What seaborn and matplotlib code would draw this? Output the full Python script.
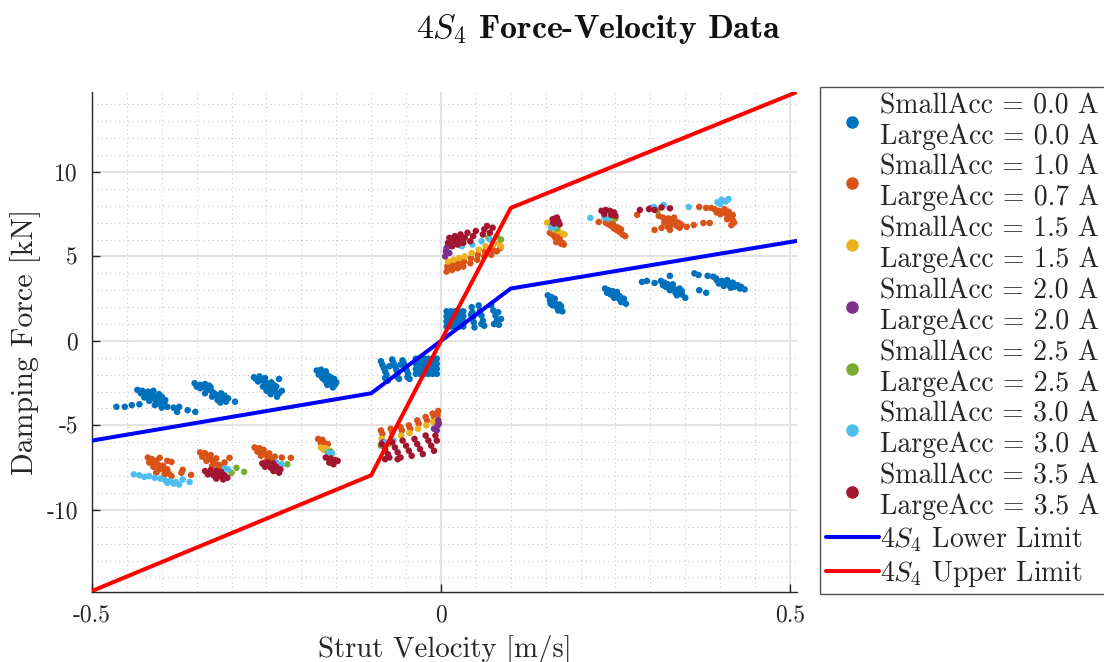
import matplotlib
matplotlib.use("Agg")
import matplotlib.pyplot as plt
import matplotlib.ticker as mticker
from matplotlib.lines import Line2D
import seaborn as sns
import pandas as pd

# ---------------- data ----------------
labels = [
    "SmallAcc = 0.0 A\nLargeAcc = 0.0 A",
    "SmallAcc = 1.0 A\nLargeAcc = 0.7 A",
    "SmallAcc = 1.5 A\nLargeAcc = 1.5 A",
    "SmallAcc = 2.0 A\nLargeAcc = 2.0 A",
    "SmallAcc = 2.5 A\nLargeAcc = 2.5 A",
    "SmallAcc = 3.0 A\nLargeAcc = 3.0 A",
    "SmallAcc = 3.5 A\nLargeAcc = 3.5 A",
]
colors = ["#0072BD", "#D95319", "#EDB120", "#7E2F8E", "#77AC30", "#4DBEEE", "#A2142F"]

acc_00 = [
    (-0.435, -2.90), (-0.428, -2.95), (-0.420, -3.00), (-0.430, -3.10), (-0.422, -3.20), (-0.414, -3.15),
    (-0.410, -3.30), (-0.405, -3.45), (-0.415, -3.40), (-0.400, -3.60), (-0.396, -3.75), (-0.405, -3.70),
    (-0.392, -3.90), (-0.400, -3.95), (-0.418, -3.55), (-0.425, -3.35), (-0.412, -2.95), (-0.404, -3.15),
    (-0.428, -3.05), (-0.418, -3.05), (-0.408, -3.55), (-0.398, -3.85), (-0.410, -3.80), (-0.420, -3.30),
    (-0.400, -3.30), (-0.395, -3.50),
    (-0.465, -3.90), (-0.453, -3.90), (-0.443, -3.80), (-0.432, -3.75), (-0.383, -3.95), (-0.375, -3.90),
    (-0.363, -4.10), (-0.378, -4.20), (-0.352, -4.20),
    (-0.353, -2.50), (-0.345, -2.60), (-0.338, -2.55), (-0.345, -2.80), (-0.335, -2.90), (-0.328, -3.00),
    (-0.338, -3.10), (-0.322, -3.20), (-0.318, -3.35), (-0.328, -3.30), (-0.312, -3.50), (-0.308, -3.60),
    (-0.316, -3.65), (-0.305, -3.40), (-0.340, -2.70), (-0.330, -2.75), (-0.295, -3.60),
    (-0.350, -2.70), (-0.332, -2.65), (-0.325, -3.10), (-0.315, -3.10), (-0.310, -3.25), (-0.320, -3.50),
    (-0.268, -2.15), (-0.260, -2.10), (-0.252, -2.20), (-0.262, -2.40), (-0.250, -2.50), (-0.243, -2.45),
    (-0.255, -2.70), (-0.245, -2.80), (-0.236, -2.70), (-0.240, -3.00), (-0.232, -3.10), (-0.244, -3.15),
    (-0.235, -3.30), (-0.232, -2.25), (-0.258, -2.30), (-0.248, -2.60),
    (-0.265, -2.25), (-0.255, -2.35), (-0.240, -2.60), (-0.238, -2.85), (-0.250, -2.95), (-0.228, -2.95),
    (-0.178, -1.75), (-0.172, -1.70), (-0.168, -1.90), (-0.175, -2.00), (-0.162, -2.05), (-0.170, -2.20),
    (-0.160, -2.30), (-0.153, -2.25), (-0.158, -2.50), (-0.150, -2.45), (-0.163, -2.60), (-0.155, -2.75),
    (-0.165, -1.80), (-0.158, -2.15), (-0.152, -2.60), (-0.166, -2.35),
    (-0.086, -1.20), (-0.084, -1.40), (-0.082, -1.60), (-0.080, -1.80), (-0.078, -2.00), (-0.080, -2.20),
    (-0.076, -2.35), (-0.074, -1.50),
    (-0.070, -1.10), (-0.068, -1.30), (-0.066, -1.50), (-0.064, -1.70), (-0.062, -1.90), (-0.063, -2.10),
    (-0.060, -2.25), (-0.058, -1.40),
    (-0.055, -1.15), (-0.053, -1.35), (-0.051, -1.55), (-0.049, -1.75), (-0.047, -1.95), (-0.048, -2.15),
    (-0.045, -2.25),
    (-0.036, -1.05), (-0.030, -1.05), (-0.024, -1.05), (-0.018, -1.05), (-0.012, -1.05), (-0.006, -1.05),
    (-0.036, -1.35), (-0.030, -1.35), (-0.024, -1.35), (-0.018, -1.35), (-0.012, -1.35), (-0.006, -1.35),
    (-0.036, -1.65), (-0.030, -1.65), (-0.024, -1.65), (-0.018, -1.65), (-0.012, -1.65), (-0.006, -1.65),
    (-0.036, -1.95), (-0.030, -1.95), (-0.024, -1.95), (-0.018, -1.95), (-0.012, -1.95), (-0.006, -1.95),
    (0.008, 0.85), (0.014, 0.85), (0.020, 0.85), (0.026, 0.85), (0.032, 0.85),
    (0.008, 1.15), (0.014, 1.15), (0.020, 1.15), (0.026, 1.15), (0.032, 1.15),
    (0.008, 1.45), (0.014, 1.45), (0.020, 1.45), (0.026, 1.45), (0.032, 1.45),
    (0.008, 1.75), (0.014, 1.75), (0.020, 1.75), (0.026, 1.75), (0.032, 1.75),
    (0.044, 2.00), (0.045, 1.70), (0.046, 1.40), (0.047, 1.10), (0.048, 0.80), (0.043, 1.55),
    (0.054, 2.10), (0.056, 1.80), (0.058, 1.50), (0.060, 1.20), (0.062, 0.90), (0.058, 1.00),
    (0.072, 2.10), (0.075, 1.80), (0.078, 1.50), (0.080, 1.20), (0.083, 0.95), (0.086, 1.30),
    (0.082, 1.70), (0.076, 1.00),
    (0.153, 2.70), (0.158, 2.60), (0.156, 2.40), (0.162, 2.30), (0.160, 2.10), (0.166, 2.00),
    (0.170, 1.90), (0.174, 1.75), (0.168, 1.80), (0.172, 2.05), (0.163, 2.50),
    (0.164, 2.20), (0.157, 2.20), (0.170, 2.15),
    (0.235, 3.10), (0.240, 3.00), (0.245, 2.85), (0.250, 2.70), (0.248, 2.55), (0.255, 2.50),
    (0.260, 2.35), (0.265, 2.20), (0.258, 2.30), (0.243, 2.75), (0.252, 2.90),
    (0.238, 2.85), (0.246, 2.95), (0.262, 2.50), (0.256, 2.65),
    (0.288, 3.49), (0.295, 3.55), (0.306, 3.43), (0.328, 3.85),
    (0.315, 3.55), (0.320, 3.45), (0.325, 3.35), (0.330, 3.20), (0.335, 3.05), (0.340, 2.90),
    (0.345, 2.75), (0.350, 2.55), (0.338, 2.70), (0.328, 3.00), (0.342, 3.10), (0.318, 3.30),
    (0.322, 3.20), (0.332, 3.35), (0.336, 2.85), (0.345, 2.95),
    (0.382, 3.85), (0.390, 3.80), (0.395, 3.60), (0.402, 3.55), (0.408, 3.40), (0.413, 3.30),
    (0.420, 3.20), (0.428, 3.10), (0.435, 3.05), (0.410, 3.60), (0.418, 3.45), (0.398, 3.40),
    (0.394, 3.70), (0.405, 3.50), (0.415, 3.15), (0.425, 3.30), (0.430, 3.20), (0.405, 3.25),
    (0.363, 4.00), (0.369, 3.90), (0.370, 3.00), (0.380, 2.85),
]

acc_10 = [
    (-0.420, -6.90), (-0.414, -7.00), (-0.418, -7.20), (-0.410, -7.25), (-0.404, -7.35), (-0.412, -7.45),
    (-0.400, -7.55), (-0.395, -7.70), (-0.405, -7.65), (-0.390, -7.85), (-0.386, -8.00), (-0.396, -7.90),
    (-0.408, -7.10), (-0.398, -7.40), (-0.392, -7.60), (-0.408, -7.80),
    (-0.403, -6.92), (-0.392, -7.10), (-0.386, -7.16), (-0.372, -7.81), (-0.358, -7.93), (-0.370, -7.63),
    (-0.345, -6.60), (-0.338, -6.65), (-0.342, -6.85), (-0.333, -6.90), (-0.328, -7.05), (-0.336, -7.10),
    (-0.324, -7.25), (-0.318, -7.35), (-0.328, -7.40), (-0.314, -7.50), (-0.320, -7.60), (-0.303, -6.92),
    (-0.330, -6.75), (-0.322, -6.95), (-0.310, -7.20),
    (-0.267, -6.30), (-0.260, -6.35), (-0.263, -6.55), (-0.255, -6.60), (-0.250, -6.75), (-0.258, -6.80),
    (-0.245, -6.95), (-0.240, -7.05), (-0.250, -7.10), (-0.228, -6.90), (-0.215, -6.92),
    (-0.254, -6.45), (-0.246, -6.65), (-0.238, -6.85),
    (-0.176, -5.80), (-0.170, -5.85), (-0.168, -6.00), (-0.162, -6.10), (-0.172, -6.05),
    (-0.086, -5.30), (-0.084, -5.50), (-0.072, -5.20), (-0.070, -5.40), (-0.058, -5.10), (-0.056, -5.30),
    (-0.046, -5.00), (-0.044, -5.20), (-0.034, -4.70), (-0.032, -4.90), (-0.022, -4.50), (-0.020, -4.70),
    (-0.012, -4.30), (-0.010, -4.50), (-0.004, -4.15), (-0.005, -4.40),
    (0.008, 4.10), (0.009, 4.40), (0.016, 4.20), (0.017, 4.50), (0.024, 4.30), (0.025, 4.60),
    (0.032, 4.40), (0.033, 4.70), (0.042, 4.60), (0.043, 4.90), (0.052, 4.80), (0.053, 5.10),
    (0.062, 5.00), (0.063, 5.30), (0.072, 5.10), (0.074, 5.40), (0.080, 5.30), (0.085, 5.50),
    (0.156, 6.40), (0.160, 6.30), (0.163, 6.15), (0.166, 6.05), (0.170, 5.90), (0.174, 5.80),
    (0.176, 5.70), (0.168, 6.20), (0.162, 6.45), (0.165, 5.85), (0.170, 6.10), (0.172, 5.75),
    (0.236, 7.00), (0.240, 6.90), (0.244, 6.80), (0.248, 6.65), (0.252, 6.55), (0.256, 6.45),
    (0.260, 6.30), (0.264, 6.20), (0.250, 6.75), (0.242, 7.05), (0.226, 7.04),
    (0.246, 6.95), (0.254, 6.70), (0.258, 6.60),
    (0.281, 7.46), (0.306, 6.57), (0.316, 6.69),
    (0.312, 7.40), (0.318, 7.30), (0.322, 7.15), (0.328, 7.00), (0.332, 6.90), (0.338, 6.80),
    (0.342, 6.70), (0.330, 7.20), (0.336, 7.05), (0.344, 6.90), (0.320, 7.00), (0.325, 6.75),
    (0.334, 7.30), (0.340, 7.00), (0.326, 7.25),
    (0.328, 6.57), (0.352, 6.75), (0.362, 6.86), (0.376, 6.98), (0.385, 6.98),
    (0.370, 7.93), (0.380, 7.87), (0.387, 7.87),
    (0.392, 7.80), (0.398, 7.70), (0.404, 7.60), (0.410, 7.45), (0.414, 7.30), (0.418, 7.15),
    (0.420, 7.00), (0.416, 6.85), (0.410, 7.20), (0.400, 7.50),
    (0.406, 7.80), (0.412, 7.65), (0.418, 7.45), (0.395, 7.60),
]

acc_15 = [
    (-0.172, -6.30), (-0.165, -6.35), (-0.160, -6.50), (-0.168, -6.45),
    (-0.085, -5.80), (-0.071, -5.70), (-0.057, -5.60), (-0.045, -5.45), (-0.033, -5.20), (-0.021, -5.00),
    (-0.011, -4.80), (-0.006, -4.70),
    (0.010, 4.70), (0.018, 4.80), (0.026, 4.90), (0.034, 5.00), (0.044, 5.20), (0.054, 5.40),
    (0.064, 5.60), (0.075, 5.70), (0.083, 5.80), (0.086, 5.60),
    (0.152, 7.00), (0.157, 6.85), (0.162, 6.60), (0.168, 6.50), (0.174, 6.35), (0.177, 6.30),
    (0.245, 7.30),
]

acc_20 = [
    (-0.004, -4.70), (-0.005, -5.00), (-0.006, -5.30), (-0.003, -4.90), (-0.083, -6.00), (-0.010, -5.20),
    (0.006, 5.00), (0.007, 5.30), (0.008, 5.50), (0.012, 5.20),
    (0.160, 6.90), (0.300, 7.85),
]

acc_25 = [
    (-0.293, -7.51), (-0.282, -7.75), (-0.300, -7.81), (-0.220, -7.30), (-0.158, -6.55),
    (-0.086, -6.20), (-0.075, -6.10),
    (0.080, 6.20), (0.068, 6.10), (0.086, 6.00), (0.166, 6.65), (0.250, 7.25), (0.310, 7.70),
]

acc_30 = [
    (-0.440, -7.90), (-0.432, -7.95), (-0.425, -8.05), (-0.418, -8.00), (-0.410, -8.10), (-0.402, -8.15),
    (-0.395, -8.25), (-0.388, -8.30), (-0.380, -8.35), (-0.375, -8.50), (-0.383, -8.45), (-0.392, -8.40),
    (-0.370, -8.20), (-0.360, -8.35),
    (-0.305, -7.60), (-0.310, -7.55), (-0.236, -7.20), (-0.228, -7.30),
    (-0.162, -6.60), (-0.156, -6.65), (-0.080, -6.00), (-0.068, -5.90),
    (0.030, 5.60), (0.045, 5.70), (0.058, 5.90), (0.070, 6.00),
    (0.158, 6.70), (0.163, 6.75), (0.214, 7.28), (0.234, 7.28), (0.240, 7.25),
    (0.305, 7.93), (0.319, 8.05),
    (0.396, 8.20), (0.402, 8.35), (0.408, 8.25), (0.412, 8.40), (0.400, 8.10), (0.355, 7.93),
]

acc_35 = [
    (-0.338, -7.70), (-0.330, -7.65), (-0.322, -7.70), (-0.315, -7.75), (-0.334, -7.90), (-0.326, -7.95),
    (-0.318, -8.00), (-0.310, -7.95), (-0.322, -8.15), (-0.312, -8.20), (-0.306, -8.10),
    (-0.256, -7.25), (-0.248, -7.20), (-0.240, -7.25), (-0.252, -7.45), (-0.244, -7.50), (-0.236, -7.45),
    (-0.240, -7.70), (-0.232, -7.80), (-0.230, -7.60),
    (-0.165, -6.90), (-0.158, -6.95), (-0.152, -7.05), (-0.160, -7.20), (-0.154, -7.30), (-0.148, -7.10),
    (-0.085, -6.10), (-0.080, -6.40), (-0.076, -6.70), (-0.070, -6.00), (-0.066, -6.30), (-0.062, -6.60),
    (-0.058, -6.90), (-0.055, -5.90), (-0.050, -6.20), (-0.046, -6.50), (-0.042, -6.80), (-0.038, -5.80),
    (-0.034, -6.10), (-0.030, -6.40), (-0.026, -6.70), (-0.022, -5.60), (-0.018, -5.90), (-0.014, -6.20),
    (-0.010, -6.50), (-0.008, -5.60), (-0.006, -5.90), (-0.062, -7.00), (-0.074, -6.90), (-0.080, -7.00),
    (0.010, 5.80), (0.012, 6.10), (0.016, 5.60), (0.018, 5.90), (0.020, 6.20), (0.024, 5.70),
    (0.026, 6.00), (0.028, 6.30), (0.032, 5.80), (0.034, 6.10), (0.038, 6.40), (0.042, 5.90),
    (0.046, 6.20), (0.050, 6.50), (0.060, 6.30), (0.062, 6.60), (0.066, 6.80), (0.070, 6.40),
    (0.074, 6.70),
    (0.160, 7.20), (0.164, 7.25), (0.168, 7.10), (0.162, 6.95), (0.170, 6.90), (0.166, 7.30),
    (0.230, 7.70), (0.236, 7.75), (0.242, 7.70), (0.248, 7.60), (0.234, 7.50), (0.244, 7.45),
    (0.250, 7.40),
    (0.285, 7.75), (0.298, 7.80), (0.306, 7.75), (0.316, 7.90), (0.328, 7.85),
]

series = [acc_00, acc_10, acc_15, acc_20, acc_25, acc_30, acc_35]

limit_velocity = [-0.50, -0.10, 0.00, 0.10, 0.51]
lower_limit = [-5.90, -3.10, 0.00, 3.10, 5.92]
upper_limit = [-14.80, -7.95, 0.00, 7.87, 14.73]

# ---------------- build table ----------------
rows = []
for lab, pts in zip(labels, series):
    for v, f in pts:
        rows.append({"velocity": v, "force": f, "current": lab})
df = pd.DataFrame(rows)
lim_df = pd.DataFrame({"velocity": limit_velocity, "lower": lower_limit, "upper": upper_limit})

# ---------------- style ----------------
sns.set_theme(style="white")
plt.rcParams["font.family"] = ["cmr10", "DejaVu Serif"]
plt.rcParams["mathtext.fontset"] = "cm"
plt.rcParams["axes.unicode_minus"] = False
plt.rcParams["axes.formatter.use_mathtext"] = False

fig = plt.figure(figsize=(11.04, 6.62), dpi=100)
ax = fig.add_axes([0.0833, 0.106, 0.6386, 0.755])

sns.scatterplot(data=df, x="velocity", y="force", hue="current", hue_order=labels,
                palette=colors, s=22, linewidth=0, legend=False, ax=ax, zorder=3)
sns.lineplot(data=lim_df, x="velocity", y="lower", color="#0000FF", linewidth=2.9,
             sort=False, ax=ax, zorder=4)
sns.lineplot(data=lim_df, x="velocity", y="upper", color="#FF0000", linewidth=2.9,
             sort=False, ax=ax, zorder=4)

ax.set_xlim(-0.5, 0.51)
ax.set_ylim(-14.85, 14.73)
ax.xaxis.set_major_locator(mticker.FixedLocator([-0.5, 0, 0.5]))
ax.xaxis.set_major_formatter(mticker.FixedFormatter(["-0.5", "0", "0.5"]))
ax.xaxis.set_minor_locator(mticker.MultipleLocator(0.05))
ax.yaxis.set_major_locator(mticker.FixedLocator([-10, -5, 0, 5, 10]))
ax.yaxis.set_major_formatter(mticker.FixedFormatter(["-10", "-5", "0", "5", "10"]))
ax.yaxis.set_minor_locator(mticker.MultipleLocator(1))

ax.grid(which="major", color="#e3e3e3", linewidth=1.4, linestyle="-")
ax.grid(which="minor", color="#c8c8c8", linewidth=0.8, linestyle=(0, (1, 3)))
ax.set_axisbelow(True)

for side in ["top", "right"]:
    ax.spines[side].set_visible(False)
for side in ["left", "bottom"]:
    ax.spines[side].set_color("#262626")
    ax.spines[side].set_linewidth(1.0)

ax.tick_params(which="major", direction="in", length=6, width=1.0, color="#262626",
               labelsize=17, labelcolor="#262626", left=True, bottom=True)
ax.tick_params(axis="x", which="major", pad=9)
ax.tick_params(axis="y", which="major", pad=10)
ax.tick_params(which="minor", left=False, bottom=False)

ax.set_xlabel("Strut Velocity [m/s]", fontsize=20.7, color="#262626", labelpad=6)
ax.set_ylabel("Damping Force [kN]", fontsize=21.5, color="#262626", labelpad=4)

fig.suptitle(r"$4S_4$ Force-Velocity Data", x=0.542, y=0.982, fontsize=24.3,
             fontfamily="cmb10", color="#111111")

# ---------------- legend ----------------
handles = [Line2D([], [], linestyle="none", marker="o", markersize=8,
                  markerfacecolor=c, markeredgecolor=c) for c in colors]
handles += [Line2D([], [], color="#0000FF", linewidth=2.9),
            Line2D([], [], color="#FF0000", linewidth=2.9)]
leg_labels = labels + [r"$4S_4$ Lower Limit", r"$4S_4$ Upper Limit"]
leg = fig.legend(handles, leg_labels, loc="upper left", bbox_to_anchor=(0.743, 0.868),
                 fontsize=20, frameon=True, fancybox=False, edgecolor="#262626",
                 labelspacing=0.18, handlelength=1.9, handletextpad=0.05,
                 borderpad=0.2, borderaxespad=0.0)
leg.get_frame().set_linewidth(1.0)
for t in leg.get_texts():
    t.set_color("#262626")
    t.set_linespacing(1.19)

fig.savefig("out.png", dpi=100)
